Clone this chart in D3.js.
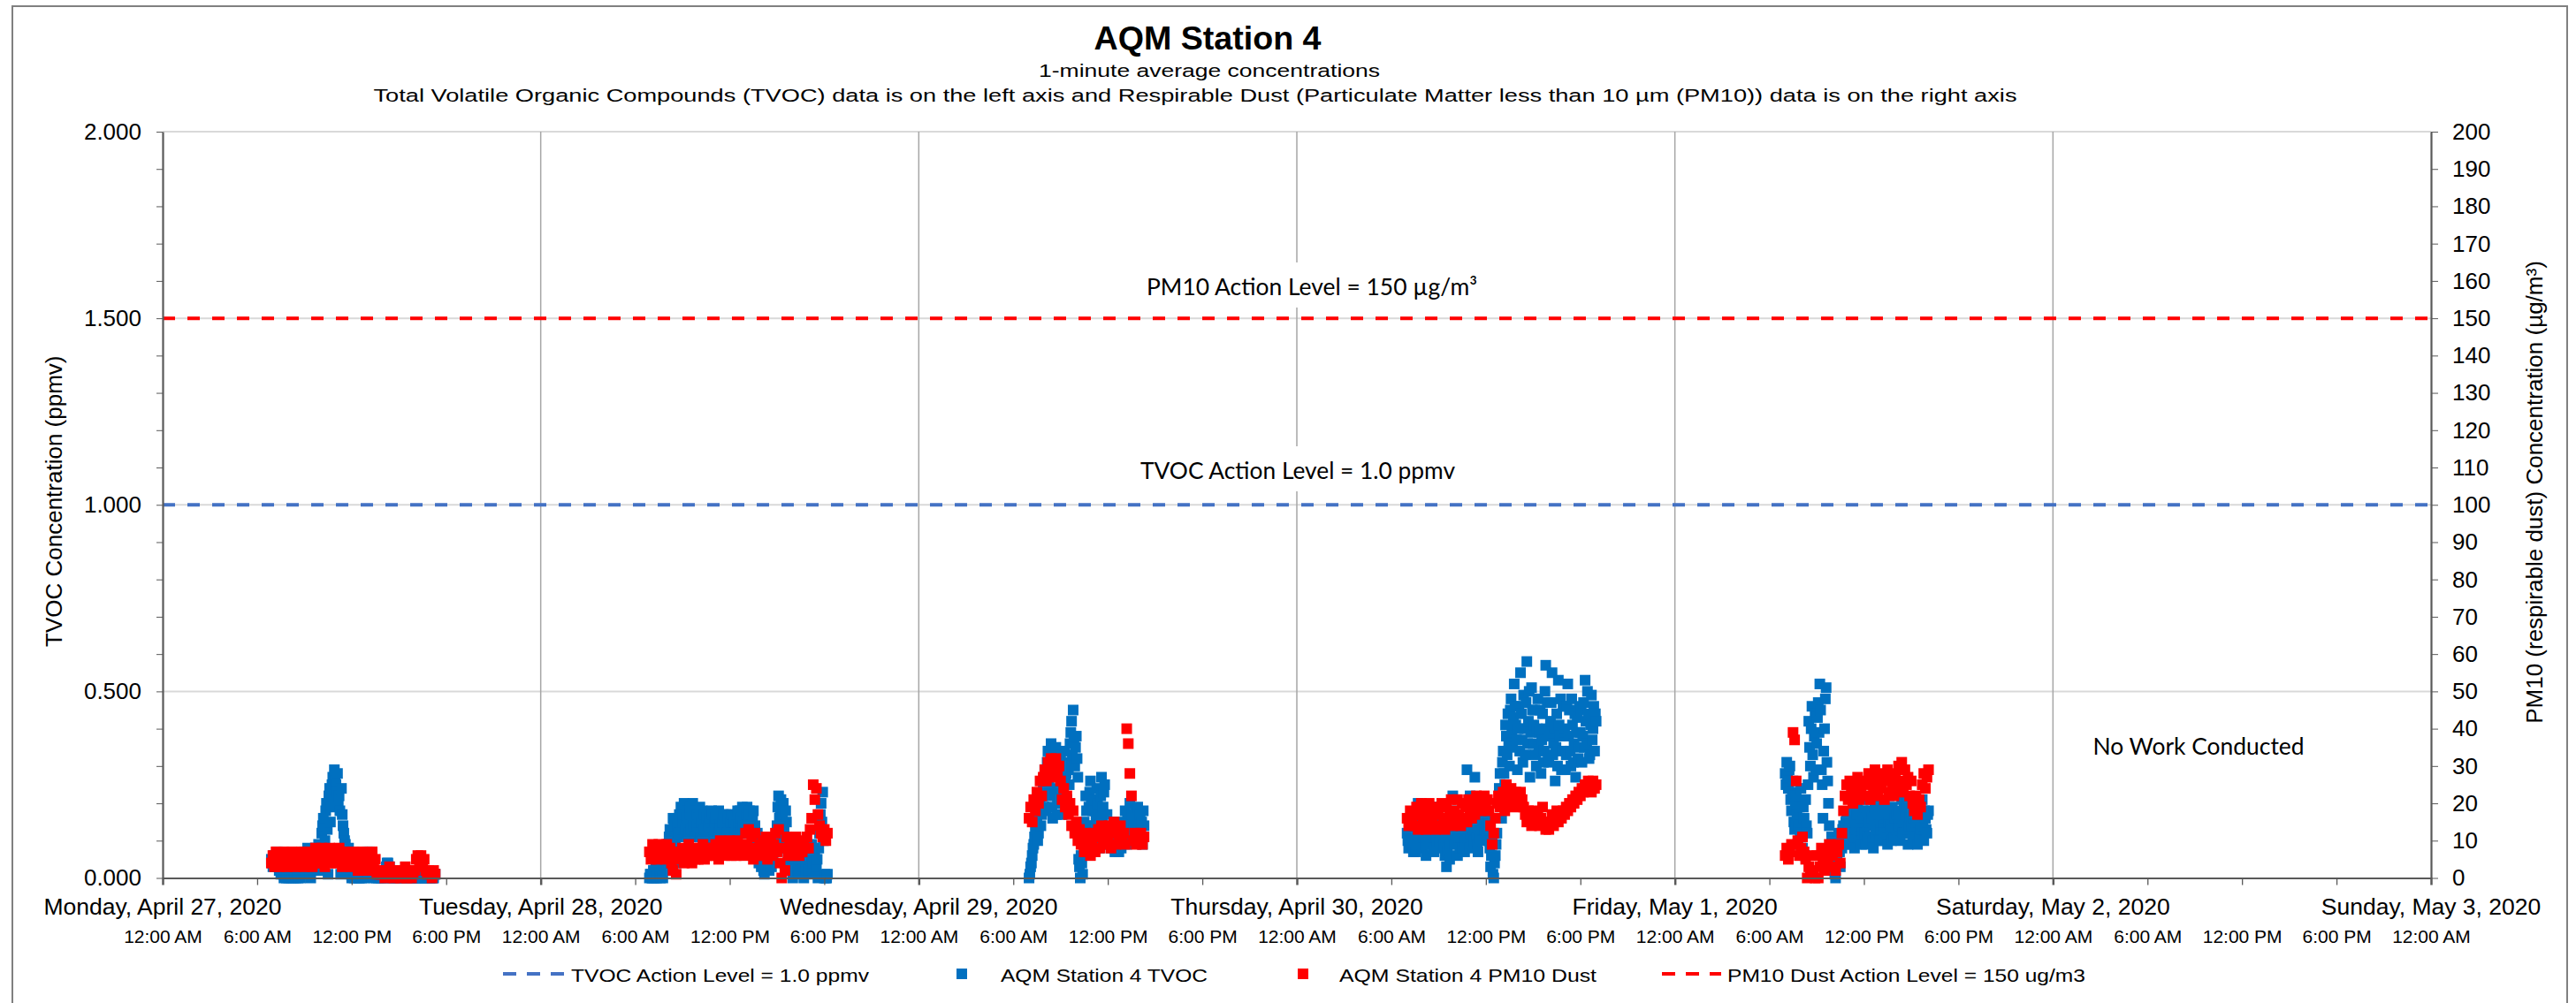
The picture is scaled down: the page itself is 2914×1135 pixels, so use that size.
<!DOCTYPE html>
<html lang="en">
<head>
  <meta charset="utf-8">
  <title>AQM Station 4</title>
  <script type="text/javascript" src="https://d3js.org/d3.v7.min.js"></script>
  <style type="text/css">
    body { margin: 0; background: #fff; }
    text { font-family: "Liberation Sans", Arial, sans-serif; fill: #000; }
    .note { font-family: Lato, "Open Sans", sans-serif; font-size: 26.5px; }
    .axis path, .axis line { stroke: #595959; }
  </style>
</head>
<body>
  <script type="text/javascript">
  // ---------------- data ----------------
  var chartTitle = "AQM Station 4";
  var subTitle = "1-minute average concentrations";
  var subTitle2 = "Total Volatile Organic Compounds (TVOC) data is on the left axis and Respirable Dust (Particulate Matter less than 10 \u00b5m (PM10)) data is on the right axis";

  var dayLabels = ["Monday, April 27, 2020", "Tuesday, April 28, 2020", "Wednesday, April 29, 2020",
                   "Thursday, April 30, 2020", "Friday, May 1, 2020", "Saturday, May 2, 2020", "Sunday, May 3, 2020"];
  var timeLabels = ["12:00 AM", "6:00 AM", "12:00 PM", "6:00 PM"];
  var tvocTicks = [0, 0.5, 1, 1.5, 2];
  var pm10Ticks = [0, 10, 20, 30, 40, 50, 60, 70, 80, 90, 100, 110, 120, 130, 140, 150, 160, 170, 180, 190, 200];

  var tvocActionLevel = 1.0;   // ppmv
  var pm10ActionLevel = 150;   // ug/m3

  // start of each work day's record; TVOC read every 3 min, PM10 every 6 min
  var sessionStarts = ["2020-04-27 06:54", "2020-04-28 06:54", "2020-04-29 07:00", "2020-04-30 07:00", "2020-05-01 07:00"];
  var tvocStepMinutes = 3;
  var pm10StepMinutes = 6;

  var tvocApr27 = [
    .05,.04,.03,.06,.06,.03,.04,.05,.07,.04,.02,.03,.01,.02,.03,.01,.00,.02,.02,.00,
    .01,.02,.00,.01,.03,.00,.02,.01,.00,.02,.01,.00,.03,.01,.00,.02,.02,.00,.01,.03,
    .04,.06,.07,.02,.03,.05,.08,.06,.05,.01,.00,.04,.06,.02,.03,.07,.08,.04,.05,.07,
    .09,.05,.02,.08,.12,.14,.16,.06,.10,.18,.20,.13,.01,.22,.24,.15,.19,.25,.27,.21,
    .29,.26,.25,.23,.28,.20,.22,.18,.01,.24,.17,.14,.12,.10,.09,.05,.06,.07,.08,.03,
    .02,.01,.00,.02,.01,.00,.02,.01,.00,.02,.01,.00,.00,.01,.02,.00,.01,.02,.00,.01,
    .03,.06,.07,.04,.05,.07,.06,.03,.02,.01,.00,.02,.01,.00,.02,.01,.00,.02,.01,.00,
    .00,.01,.02,.00,.01,.02,.03,.04,.04,.03,.03,.02,.01,.00,.00,.01,.02,.00,.00,.01,
    .01,.00,.00,.02,.02,.01,.00,.01,.01,.02,.00,.00,.02,.01,.01,.00,.00,.02,.01,.00,
    .00,.01,.01,.00,.00,.02,.02,.00,.00,.01,.01,.00,.00,.02,.01,.00,.02,.01,.00,.01,
    .01,.00,.00,.01,.01,.00,.00,.01,.01
  ];
  var pm10Apr27 = [
    4,6,3,7,5,3,6,4,7,5,
    3,6,4,7,5,3,6,5,4,7,
    5,3,6,4,7,5,3,6,8,4,
    6,4,8,5,3,7,5,8,4,6,
    7,4,6,8,5,3,7,5,6,4,
    6,3,7,4,5,2,6,4,7,3,
    5,2,6,4,7,3,5,1,2,1,
    1,2,0,2,1,3,1,2,0,1,
    2,1,0,2,1,3,0,2,1,0,
    1,2,5,6,4,6,3,5,2,1,
    2,1,0,2,1
  ];

  var tvocApr28 = [
    .00,.01,.01,.00,.00,.02,.00,.01,.03,.00,.01,.02,.04,.01,.00,.03,.02,.00,.04,.03,
    .05,.03,.02,.07,.09,.11,.13,.08,.06,.12,.16,.14,.11,.09,.04,.16,.14,.12,.17,.15,
    .19,.13,.15,.17,.20,.11,.13,.16,.18,.14,.12,.17,.19,.13,.16,.20,.14,.11,.18,.15,
    .17,.14,.12,.16,.19,.11,.15,.18,.08,.13,.17,.11,.13,.16,.09,.14,.16,.11,.12,.18,
    .17,.11,.13,.15,.16,.13,.11,.17,.18,.12,.14,.16,.12,.15,.17,.13,.10,.17,.15,.12,
    .16,.13,.12,.15,.17,.12,.11,.16,.15,.11,.13,.17,.18,.14,.12,.18,.16,.13,.19,.14,
    .18,.14,.13,.17,.19,.12,.15,.18,.17,.13,.12,.16,.18,.11,.14,.08,.10,.12,.06,.04,
    .09,.05,.03,.08,.07,.02,.01,.06,.05,.09,.08,.04,.02,.07,.06,.03,.09,.05,.07,.09,
    .08,.11,.14,.19,.22,.16,.18,.21,.12,.17,.20,.13,.10,.18,.15,.08,.06,.04,.02,.07,
    .05,.02,.00,.06,.08,.04,.03,.09,.06,.01,.09,.05,.02,.08,.07,.03,.00,.06,.04,.02,
    .08,.05,.02,.07,.06,.03,.09,.04,.01,.08,.07,.02,.03,.05,.00,.08,.12,.17,.20,.15,
    .23,.10,.00,.01,.00,.00,.01
  ];
  var pm10Apr28 = [
    7,5,9,6,8,5,9,7,6,8,
    5,9,6,8,4,2,6,1,5,7,
    6,8,4,7,5,9,6,4,8,5,
    7,5,8,6,9,5,7,6,8,6,
    8,6,9,7,5,10,7,8,6,9,
    7,10,6,8,9,6,10,7,8,9,
    6,12,9,13,7,11,5,12,8,6,
    9,6,10,7,11,5,8,10,6,9,
    12,7,13,4,0,8,2,11,6,9,
    7,10,6,11,8,6,9,7,10,8,
    11,8,13,16,25,21,24,17,14,12,
    11,13,10,12
  ];

  var tvocApr29 = [
    .00,.01,.03,.04,.06,.08,.09,.11,.13,.15,.16,.10,.12,.18,.20,.14,.17,.22,.24,.19,
    .29,.23,.18,.31,.34,.25,.22,.33,.36,.19,.16,.28,.31,.24,.35,.17,.20,.32,.27,.22,
    .33,.24,.17,.20,.30,.34,.26,.28,.21,.31,.29,.25,.36,.39,.42,.33,.45,.37,.30,.35,
    .38,.32,.27,.05,.03,.00,.06,.04,.01,.09,.15,.12,.22,.18,.10,.14,.19,.23,.26,.20,
    .14,.18,.21,.11,.09,.16,.24,.20,.17,.08,.12,.22,.27,.15,.19,.23,.25,.10,.13,.17,
    .10,.12,.14,.09,.08,.13,.12,.10,.15,.07,.09,.14,.13,.11,.07,.12,.11,.08,.14,.10,
    .12,.15,.18,.12,.09,.16,.14,.11,.20,.14,.11,.17,.16,.13,.10,.18,.15,.12,.19,.16,
    .13,.17,.10,.15,.09,.18,.14
  ];
  var pm10Apr29 = [
    16,19,15,21,18,23,20,26,22,27,
    29,26,31,28,32,27,30,32,28,30,
    26,21,24,19,22,17,20,14,18,12,
    15,10,13,9,11,7,12,8,10,6,
    9,12,7,11,13,8,14,10,12,9,
    11,14,8,12,15,9,13,10,14,11,
    12,9,40,36,28,22,10,12,9,11,
    10,12,9,11
  ];

  var tvocApr30 = [
    .12,.10,.08,.13,.15,.09,.10,.14,.07,.11,.13,.07,.09,.15,.20,.12,.11,.14,.16,.09,
    .08,.12,.14,.09,.06,.13,.11,.16,.18,.10,.09,.14,.13,.08,.07,.12,.15,.11,.10,.14,
    .19,.10,.12,.15,.08,.12,.14,.09,.06,.11,.03,.07,.11,.14,.05,.09,.15,.18,.22,.13,
    .09,.12,.13,.10,.06,.13,.11,.08,.14,.11,.08,.15,.12,.07,.10,.13,.29,.11,.15,.08,
    .22,.12,.09,.15,.13,.10,.27,.13,.11,.09,.07,.12,.14,.11,.16,.13,.10,.17,.13,.15,
    .17,.14,.12,.10,.15,.08,.03,.06,.10,.01,.00,.04,.06,.09,.12,.16,.20,.24,.28,.22,
    .16,.31,.34,.28,.25,.41,.38,.33,.44,.36,.30,.45,.48,.39,.35,.43,.52,.46,.41,.37,
    .29,.40,.46,.34,.55,.44,.37,.31,.49,.40,.33,.47,.58,.36,.42,.50,.27,.39,.51,.45,
    .36,.41,.45,.33,.30,.40,.48,.35,.39,.45,.28,.37,.44,.31,.34,.50,.57,.40,.47,.32,
    .31,.38,.42,.47,.55,.33,.36,.40,.26,.35,.44,.30,.53,.41,.38,.48,.29,.34,.46,.39,
    .40,.29,.33,.46,.52,.38,.45,.34,.30,.48,.41,.31,.36,.44,.27,.39,.43,.32,.35,.46,
    .39,.45,.31,.38,.47,.35,.53,.42,.36,.50,.44,.32,.33,.41,.49,.37,.40,.46,.34,.44,
    .42
  ];
  var pm10Apr30 = [
    16,14,18,15,17,14,19,13,17,20,
    15,18,13,17,20,14,16,19,13,17,
    18,14,20,16,13,19,15,17,21,14,
    18,15,21,17,14,20,16,19,15,21,
    18,16,20,17,22,19,21,18,20,22,
    19,21,18,14,9,12,16,20,22,19,
    21,23,18,25,22,20,24,21,19,23,
    22,20,23,21,19,17,15,18,16,14,
    16,18,15,17,14,16,19,15,13,14,
    13,15,17,14,16,18,15,17,16,18,
    17,19,18,20,19,21,20,22,21,23,
    22,24,23,25,24,26,25,23,26,24,
    25
  ];

  var tvocMay1 = [
    .28,.25,.31,.27,.24,.29,.30,.21,.18,.23,.26,.15,.13,.20,.22,.17,.09,.14,.19,.12,
    .24,.11,.08,.19,.16,.06,.21,.14,.12,.25,.42,.35,.30,.40,.46,.33,.27,.38,.44,.29,
    .36,.43,.47,.39,.52,.45,.29,.25,.16,.34,.40,.48,.51,.31,.26,.20,.14,.04,.07,.11,
    .02,.06,.10,.01,.00,.08,.05,.10,.12,.07,.03,.11,.08,.13,.14,.09,.11,.15,.17,.12,
    .09,.13,.15,.10,.12,.16,.18,.11,.08,.15,.13,.17,.20,.12,.10,.14,.16,.09,.12,.18,
    .18,.12,.09,.16,.14,.11,.21,.15,.11,.18,.16,.10,.08,.14,.19,.12,.13,.20,.17,.10,
    .10,.13,.15,.18,.20,.14,.12,.16,.17,.11,.09,.15,.22,.17,.14,.10,.19,.13,.11,.16,
    .23,.17,.13,.11,.18,.14,.10,.16,.21,.12,.15,.19,.12,.17,.19,.13,.09,.14,.16,.20,
    .20,.14,.11,.16,.17,.12,.14,.19,.09,.15,.19,.11,.13,.17,.21,.14,.10,.18,.16,.13,
    .12,.17,.18
  ];
  var pm10May1 = [
    6,8,5,7,9,39,37,26,10,6,
    8,11,7,5,0,3,1,6,2,0,
    6,0,3,8,5,2,7,4,9,3,
    6,8,2,7,9,4,12,18,22,25,
    21,26,23,20,25,22,27,21,24,22,
    26,22,25,28,21,27,23,29,25,22,
    27,24,28,21,26,29,23,27,25,22,
    28,24,30,26,31,23,29,25,27,22,
    26,20,18,22,17,21,19,25,28,24,
    27,29
  ];

  var tvocSessions = [tvocApr27, tvocApr28, tvocApr29, tvocApr30, tvocMay1];
  var pm10Sessions = [pm10Apr27, pm10Apr28, pm10Apr29, pm10Apr30, pm10May1];

  // ---------------- setup ----------------
  var w = 2914;
  var h = 1135;
  var plotLeft = 184, plotRight = 2750, plotTop = 149, plotBottom = 993.5;
  var markerSize = 12;

  var parseTime = d3.timeParse("%Y-%m-%d %H:%M");

  var toPoints = function(starts, sessions, step) {
    var pts = [];
    sessions.forEach(function(vals, i) {
      var t0 = parseTime(starts[i]);
      vals.forEach(function(v, j) {
        pts.push({ t: d3.timeMinute.offset(t0, j * step), v: v });
      });
    });
    return pts;
  };

  var tvocData = toPoints(sessionStarts, tvocSessions, tvocStepMinutes);
  var pm10Data = toPoints(sessionStarts, pm10Sessions, pm10StepMinutes);

  var xStart = new Date(2020, 3, 27), xEnd = new Date(2020, 4, 3);
  var xScale = d3.scaleTime().domain([xStart, xEnd]).range([plotLeft, plotRight]);
  var yLeft = d3.scaleLinear().domain([0, 2]).range([plotBottom, plotTop]);
  var yRight = d3.scaleLinear().domain([0, 200]).range([plotBottom, plotTop]);

  var svg = d3.select("body").append("svg")
    .attr("width", w)
    .attr("height", h);

  svg.append("rect").attr("width", w).attr("height", h).attr("fill", "#fff");
  // chart frame (bottom edge runs off the picture)
  svg.append("rect")
    .attr("x", 14).attr("y", 7).attr("width", 2890).attr("height", 1160)
    .attr("fill", "none").attr("stroke", "#808080").attr("stroke-width", 2);

  // gridlines
  svg.append("g").selectAll("line")
    .data(tvocTicks.slice(1))
    .join("line")
    .attr("x1", plotLeft).attr("x2", plotRight)
    .attr("y1", function(d) { return yLeft(d); })
    .attr("y2", function(d) { return yLeft(d); })
    .attr("stroke", "#d9d9d9").attr("stroke-width", 2);

  var innerDays = d3.timeDay.range(d3.timeDay.offset(xStart, 1), xEnd);
  svg.append("g").selectAll("line")
    .data(innerDays)
    .join("line")
    .attr("x1", function(d) { return xScale(d); })
    .attr("x2", function(d) { return xScale(d); })
    .attr("y1", plotTop).attr("y2", plotBottom)
    .attr("stroke", "#a6a6a6").attr("stroke-width", 1.5);

  // action level lines
  svg.append("line")
    .attr("x1", plotLeft).attr("x2", plotRight)
    .attr("y1", yLeft(tvocActionLevel)).attr("y2", yLeft(tvocActionLevel))
    .attr("stroke", "#4472c4").attr("stroke-width", 4).attr("stroke-dasharray", "14,14");
  svg.append("line")
    .attr("x1", plotLeft).attr("x2", plotRight)
    .attr("y1", yRight(pm10ActionLevel)).attr("y2", yRight(pm10ActionLevel))
    .attr("stroke", "#ff0000").attr("stroke-width", 4).attr("stroke-dasharray", "14,14");

  // text notes with white boxes
  var note = function(str, cx, baseline, width) {
    svg.append("rect")
      .attr("x", cx - width / 2 - 10).attr("y", baseline - 37)
      .attr("width", width + 20).attr("height", 51)
      .attr("fill", "#fff");
    svg.append("text")
      .attr("class", "note")
      .attr("x", cx).attr("y", baseline)
      .attr("text-anchor", "middle")
      .attr("textLength", width).attr("lengthAdjust", "spacingAndGlyphs")
      .text(str);
  };
  note("PM10 Action Level = 150 \u00b5g/m\u00b3", 1484, 334, 374);
  note("TVOC Action Level = 1.0 ppmv", 1468, 542, 356);
  note("No Work Conducted", 2487, 854, 239);

  // data
  svg.append("g").selectAll("rect")
    .data(tvocData)
    .join("rect")
    .attr("x", function(d) { return xScale(d.t) - markerSize / 2; })
    .attr("y", function(d) { return yLeft(d.v) - markerSize / 2; })
    .attr("width", markerSize).attr("height", markerSize)
    .attr("fill", "#0070c0");

  svg.append("g").selectAll("rect")
    .data(pm10Data)
    .join("rect")
    .attr("x", function(d) { return xScale(d.t) - markerSize / 2; })
    .attr("y", function(d) { return yRight(d.v) - markerSize / 2; })
    .attr("width", markerSize).attr("height", markerSize)
    .attr("fill", "#ff0000");

  // axes
  var leftAxis = d3.axisLeft(yLeft)
    .tickValues(d3.range(0, 21).map(function(i) { return i / 10; }))
    .tickSize(7).tickSizeOuter(0).tickPadding(17)
    .tickFormat(function(d) { return tvocTicks.indexOf(d) >= 0 ? d3.format(".3f")(d) : ""; });
  var gLeft = svg.append("g")
    .attr("class", "axis")
    .attr("transform", "translate(" + plotLeft + ",0)")
    .call(leftAxis);
  gLeft.selectAll("text").style("font-size", "26px").attr("fill", "#000");

  var rightAxis = d3.axisRight(yRight)
    .tickValues(pm10Ticks)
    .tickSize(8).tickSizeOuter(0).tickPadding(16);
  var gRight = svg.append("g")
    .attr("class", "axis")
    .attr("transform", "translate(" + plotRight + ",0)")
    .call(rightAxis);
  gRight.selectAll("text").style("font-size", "26px").attr("fill", "#000");

  var xAxis = d3.axisBottom(xScale)
    .ticks(d3.timeHour.every(6))
    .tickSize(8).tickSizeOuter(0)
    .tickFormat(function(d) { return timeLabels[d.getHours() / 6]; });
  var gX = svg.append("g")
    .attr("class", "axis")
    .attr("transform", "translate(0," + plotBottom + ")")
    .call(xAxis);
  gX.selectAll("text")
    .attr("y", 73.5).attr("dy", null)
    .style("font-size", "21px").attr("fill", "#000");
  gX.selectAll(".tick line")
    .attr("stroke", function(d) { return d.getHours() === 0 ? "#000" : "#808080"; })
    .attr("stroke-width", function(d) { return d.getHours() === 0 ? 2.5 : 1.3; });

  [gLeft, gRight, gX].forEach(function(g) {
    g.select(".domain").attr("stroke", "#595959").attr("stroke-width", 2.2);
  });

  // day labels above the time row
  svg.append("g").selectAll("text")
    .data(d3.timeDay.range(xStart, d3.timeDay.offset(xEnd, 1)))
    .join("text")
    .attr("x", function(d) { return xScale(d); })
    .attr("y", 1035)
    .attr("text-anchor", "middle")
    .style("font-size", "26.5px")
    .text(function(d, i) { return dayLabels[i]; });

  // axis titles
  svg.append("text")
    .attr("transform", "translate(70," + ((plotTop + plotBottom) / 2 - 4) + ") rotate(-90)")
    .attr("text-anchor", "middle")
    .style("font-size", "26px")
    .text("TVOC Concentration (ppmv)");
  svg.append("text")
    .attr("transform", "translate(2876,557) rotate(-90)")
    .attr("text-anchor", "middle")
    .style("font-size", "26px")
    .text("PM10 (respirable dust) Concentration (\u00b5g/m\u00b3)");

  // titles
  svg.append("text")
    .attr("x", 1366).attr("y", 56)
    .attr("text-anchor", "middle")
    .style("font-size", "36px").style("font-weight", "bold")
    .attr("textLength", 257).attr("lengthAdjust", "spacingAndGlyphs")
    .text(chartTitle);
  svg.append("text")
    .attr("x", 1368).attr("y", 87)
    .attr("text-anchor", "middle")
    .style("font-size", "20.5px")
    .attr("textLength", 386).attr("lengthAdjust", "spacingAndGlyphs")
    .text(subTitle);
  svg.append("text")
    .attr("x", 1352).attr("y", 115)
    .attr("text-anchor", "middle")
    .style("font-size", "20.5px")
    .attr("textLength", 1859).attr("lengthAdjust", "spacingAndGlyphs")
    .text(subTitle2);

  // legend
  var legendY = 1102;
  var legend = svg.append("g");
  var legendText = function(str, x0, len) {
    legend.append("text")
      .attr("x", x0).attr("y", legendY + 9)
      .style("font-size", "21px")
      .attr("textLength", len).attr("lengthAdjust", "spacingAndGlyphs")
      .text(str);
  };
  legend.append("line")
    .attr("x1", 569).attr("x2", 639).attr("y1", legendY).attr("y2", legendY)
    .attr("stroke", "#4472c4").attr("stroke-width", 4).attr("stroke-dasharray", "15,12");
  legendText("TVOC Action Level = 1.0 ppmv", 646, 337);
  legend.append("rect")
    .attr("x", 1088 - markerSize / 2).attr("y", legendY - markerSize / 2)
    .attr("width", markerSize).attr("height", markerSize).attr("fill", "#0070c0");
  legendText("AQM Station 4 TVOC", 1132, 234);
  legend.append("rect")
    .attr("x", 1474 - markerSize / 2).attr("y", legendY - markerSize / 2)
    .attr("width", markerSize).attr("height", markerSize).attr("fill", "#ff0000");
  legendText("AQM Station 4 PM10 Dust", 1515, 291);
  legend.append("line")
    .attr("x1", 1880).attr("x2", 1947).attr("y1", legendY).attr("y2", legendY)
    .attr("stroke", "#ff0000").attr("stroke-width", 4).attr("stroke-dasharray", "15,12");
  legendText("PM10 Dust Action Level = 150 ug/m3", 1954, 405);
  </script>
</body>
</html>
